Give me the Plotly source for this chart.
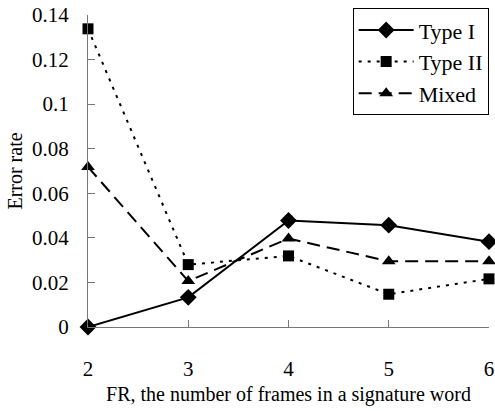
import plotly.graph_objects as go

frames = [2, 3, 4, 5, 6]
type1 = [0.0, 0.0133, 0.0478, 0.0457, 0.0383]
type2 = [0.1338, 0.028, 0.0319, 0.0147, 0.0216]
mixed = [0.0718, 0.0206, 0.0397, 0.0295, 0.0295]
ytickvals = [0, 0.02, 0.04, 0.06, 0.08, 0.10, 0.12, 0.14]
yticktext = ["0", "0.02", "0.04", "0.06", "0.08", "0.1", "0.12", "0.14"]

FONT = "Liberation Serif"
fig = go.Figure()
fig.add_trace(go.Scatter(x=frames, y=type1, name="Type I", mode="lines+markers",
                         line=dict(color="black", width=2, dash="solid"),
                         marker=dict(symbol="diamond", size=13, color="black"),
                         cliponaxis=False))
fig.add_trace(go.Scatter(x=frames, y=type2, name="Type II", mode="lines+markers",
                         line=dict(color="black", width=2, dash="3px,6px"),
                         marker=dict(symbol="square", size=11, color="black"),
                         cliponaxis=False))
fig.add_trace(go.Scatter(x=frames, y=mixed, name="Mixed", mode="lines+markers",
                         line=dict(color="black", width=2, dash="13px,7px"),
                         marker=dict(symbol="triangle-up", size=12, color="black"),
                         cliponaxis=False))

fig.update_layout(
    width=495, height=411,
    margin=dict(l=88, r=6, t=15, b=84),
    paper_bgcolor="white", plot_bgcolor="white",
    font=dict(family=FONT, size=21, color="black"),
    showlegend=True,
    legend=dict(x=0.66, y=1.022, xanchor="left", yanchor="top",
                bordercolor="black", borderwidth=1, bgcolor="white",
                font=dict(family=FONT, size=22), itemwidth=55,
                tracegroupgap=0),
)
fig.update_xaxes(range=[2, 6], tickvals=frames, ticks="inside", ticklen=7,
                 tickcolor="#777", showline=True, linecolor="#777", linewidth=1,
                 showgrid=False, zeroline=False, ticklabelstandoff=23,
                 ticklabeloverflow="allow",
                 tickfont=dict(family=FONT, size=21),
                 title=dict(text="FR, the number of frames in a signature word",
                            standoff=6, font=dict(family=FONT, size=20)),
                 automargin=False)
fig.update_yaxes(range=[0, 0.14], tickvals=ytickvals, ticktext=yticktext,
                 ticks="inside", ticklen=7, tickcolor="#777", showline=True,
                 linecolor="#777", linewidth=1, showgrid=False, zeroline=False,
                 ticklabelstandoff=14, tickfont=dict(family=FONT, size=21),
                 title=dict(text="Error rate", standoff=4, font=dict(family=FONT, size=20)),
                 automargin=False)

fig.write_html("out.html")
